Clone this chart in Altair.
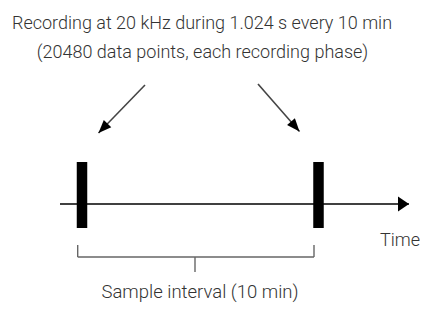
import altair as alt
import pandas as pd

# ---- diagram content (layout units = pixels of the 428x314 figure) ----
title_lines = ["Recording at 20 kHz during 1.024 s every 10 min",
               "(20480 data points, each recording phase)"]
title_x = [202, 202.5]
title_y = [29, 58]

record_x = [82, 318.5]          # recording phases (every 10 min)
record_top = [162, 162]
record_bottom = [228, 228]

axis_start = [60]
axis_end = [409]
axis_y = [204]

arrow_x1 = [145, 258]
arrow_y1 = [85, 84]
arrow_x2 = [98.5, 299.5]
arrow_y2 = [133, 131.5]
arrow_angle = [224, 139]

bracket_x1 = [77.7, 77.7, 314, 195]
bracket_x2 = [77.7, 314, 314, 195]
bracket_y1 = [245, 257, 245, 257]
bracket_y2 = [257, 257, 257, 272]

labels = ["Time", "Sample interval (10 min)"]
label_x = [380, 200]
label_y = [246, 298]
label_align = ["left", "center"]

FONT = "Roboto"
TXT = "#333333"

xs = alt.Scale(domain=[8, 420], zero=False, nice=False)
ys = alt.Scale(domain=[8, 314], reverse=True, zero=False, nice=False)
X = lambda f: alt.X(f, type="quantitative", scale=xs, axis=None)
Y = lambda f: alt.Y(f, type="quantitative", scale=ys, axis=None)

titles = pd.DataFrame({"t": title_lines, "x": title_x, "y": title_y})
records = pd.DataFrame({"x": record_x, "y1": record_top, "y2": record_bottom})
axis_df = pd.DataFrame({"x1": axis_start, "x2": axis_end, "y": axis_y})
arrows = pd.DataFrame({"x1": arrow_x1, "y1": arrow_y1, "x2": arrow_x2,
                       "y2": arrow_y2, "a": arrow_angle})
bracket = pd.DataFrame({"x1": bracket_x1, "x2": bracket_x2,
                        "y1": bracket_y1, "y2": bracket_y2})
lab = pd.DataFrame({"t": labels, "x": label_x, "y": label_y, "al": label_align})

title_layer = alt.Chart(titles).mark_text(
    font=FONT, fontSize=18, fontWeight=300, color=TXT, baseline="alphabetic", align="center"
).encode(x=X("x"), y=Y("y"), text="t:N")

axis_line = alt.Chart(axis_df).mark_rule(color="#000000", strokeWidth=1.5).encode(
    x=X("x1"), x2="x2", y=Y("y"))
axis_head = alt.Chart(axis_df).mark_point(
    shape="M0,0L-1.36,2L1.36,2Z", filled=True, color="#000000", opacity=1,
    size=121, angle=90, strokeWidth=0
).encode(x=X("x2"), y=Y("y"))

bars = alt.Chart(records).mark_rule(color="#000000", strokeWidth=10.5, strokeCap="butt").encode(
    x=X("x"), y=Y("y1"), y2="y2")

arrow_lines = alt.Chart(arrows).mark_rule(color="#444444", strokeWidth=1.6).encode(
    x=X("x1"), y=Y("y1"), x2="x2", y2="y2")
arrow_heads = alt.Chart(arrows).mark_point(
    shape="M0,0L-0.8,2L0.8,2Z", filled=True, color="#000000", opacity=1,
    size=169, strokeWidth=0
).encode(x=X("x2"), y=Y("y2"), angle=alt.Angle("a:Q", scale=None))

bracket_layer = alt.Chart(bracket).mark_rule(color="#666666", strokeWidth=1.4).encode(
    x=X("x1"), x2="x2", y=Y("y1"), y2="y2")

label_left = alt.Chart(lab[lab.al == "left"]).mark_text(
    font=FONT, fontSize=18, fontWeight=300, color=TXT, baseline="alphabetic", align="left"
).encode(x=X("x"), y=Y("y"), text="t:N")
label_center = alt.Chart(lab[lab.al == "center"]).mark_text(
    font=FONT, fontSize=18.5, fontWeight=300, color=TXT, baseline="alphabetic", align="center"
).encode(x=X("x"), y=Y("y"), text="t:N")

chart = alt.layer(
    title_layer, arrow_lines, arrow_heads, axis_line, axis_head, bars,
    bracket_layer, label_left, label_center
).properties(
    width=412, height=306, padding=0,
    autosize=alt.AutoSizeParams(type="none"),
    background="#ffffff"
).configure_view(stroke=None)

chart.save("out.html", embed_options={"renderer": "svg", "actions": False})
